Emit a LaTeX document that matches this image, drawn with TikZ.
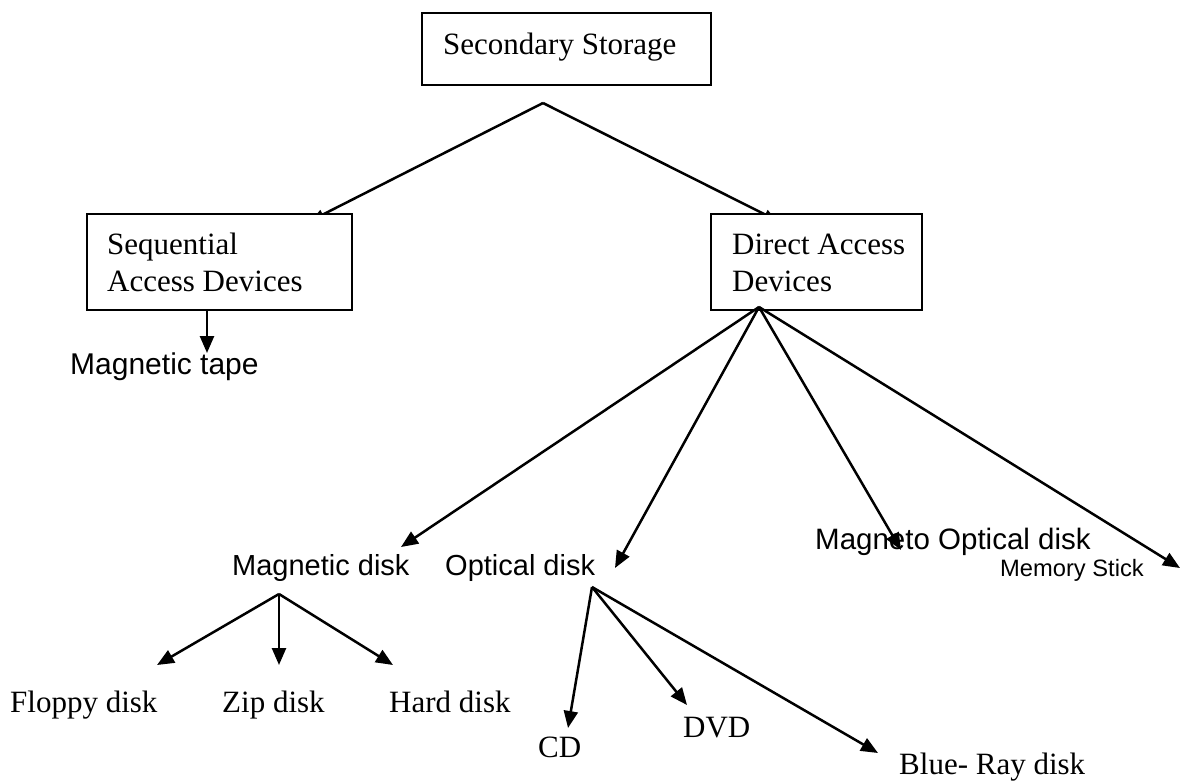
\documentclass[tikz,border=0pt]{standalone}
\usepackage{fontspec}
\setmainfont{Liberation Serif}
\newfontfamily\arialf{Liberation Sans}
\usetikzlibrary{arrows.meta}
\tikzset{
  boxnode/.style={draw=black, line width=1.8pt, fill=white, rectangle, inner sep=0pt},
  serif/.style={inner sep=0pt, anchor=base west, font=\fontsize{31}{37}\selectfont, align=left},
  sans/.style={inner sep=0pt, anchor=base west, font=\arialf\fontsize{29}{34}\selectfont},
  smallsans/.style={inner sep=0pt, anchor=base west, font=\arialf\fontsize{23.7}{28}\selectfont},
  conn/.style={line width=2.5pt, -{Triangle[length=17pt,width=14pt]}},
  hidden/.style={line width=2.5pt, -{Triangle[length=12pt,width=10pt]}}
}
\begin{document}
\begin{tikzpicture}[x=1pt,y=-1pt]
\useasboundingbox (0,0) rectangle (1183,780);
% apex and hidden arrows
\coordinate (apex) at (543,103);
\coordinate (seqin) at (312,220);
\coordinate (dirin) at (776,220);
\draw[hidden] (apex) -- (seqin);
\draw[hidden] (apex) -- (dirin);
% boxes
\node[boxnode, minimum width=289pt, minimum height=72pt] (top) at (566.5,49) {};
\node[boxnode, minimum width=265pt, minimum height=96pt] (seq) at (219.5,262) {};
\node[boxnode, minimum width=211pt, minimum height=96pt] (dir) at (816.5,262) {};
% box texts
\node[serif] (toptxt) at (443,54) {Secondary Storage};
\node[serif] (seqtxt) at (107,291) {Sequential\\Access Devices};
\node[serif] (dirtxt) at (732,291) {Direct Access\\Devices};
% leaf texts
\node[sans, font=\arialf\fontsize{30}{34}\selectfont] (tape) at (70,374) {Magnetic tape};
\node[sans] (mdisk) at (232,575) {Magnetic disk};
\node[sans] (odisk) at (445,575) {Optical disk};
\node[sans, font=\arialf\fontsize{29.5}{34}\selectfont] (mo) at (815,549) {Magneto Optical disk};
\node[smallsans] (ms) at (1000,576) {Memory Stick};
\node[serif] (floppy) at (10,712) {Floppy disk};
\node[serif] (zip) at (222,712) {Zip disk};
\node[serif] (hard) at (389,712) {Hard disk};
\node[serif] (cd) at (538,757) {CD};
\node[serif] (dvd) at (683,737) {DVD};
\node[serif] (blue) at (899,774) {Blue- Ray disk};
% connector end points
\coordinate (tapefrom) at (207,310);
\coordinate (tapeto) at (207,353);
\coordinate (dfan) at (759,307);
\coordinate (mdtip) at (401,547);
\coordinate (odtip) at (615,568);
\coordinate (motip) at (901,550);
\coordinate (mstip) at (1180,568);
\coordinate (mfan) at (279,594);
\coordinate (fltip) at (157,665);
\coordinate (ziptip) at (279,665);
\coordinate (hdtip) at (393,665);
\coordinate (ofan) at (592,587);
\coordinate (cdtip) at (568,728);
\coordinate (dvdtip) at (687,705);
\coordinate (bluetip) at (878,753);
% connectors
\draw[conn] (tapefrom) -- (tapeto);
\draw[conn] (dfan) -- (mdtip);
\draw[conn] (dfan) -- (odtip);
\draw[conn] (dfan) -- (motip);
\draw[conn] (dfan) -- (mstip);
\draw[conn] (mfan) -- (fltip);
\draw[conn] (mfan) -- (ziptip);
\draw[conn] (mfan) -- (hdtip);
\draw[conn] (ofan) -- (cdtip);
\draw[conn] (ofan) -- (dvdtip);
\draw[conn] (ofan) -- (bluetip);
\end{tikzpicture}
\end{document}
